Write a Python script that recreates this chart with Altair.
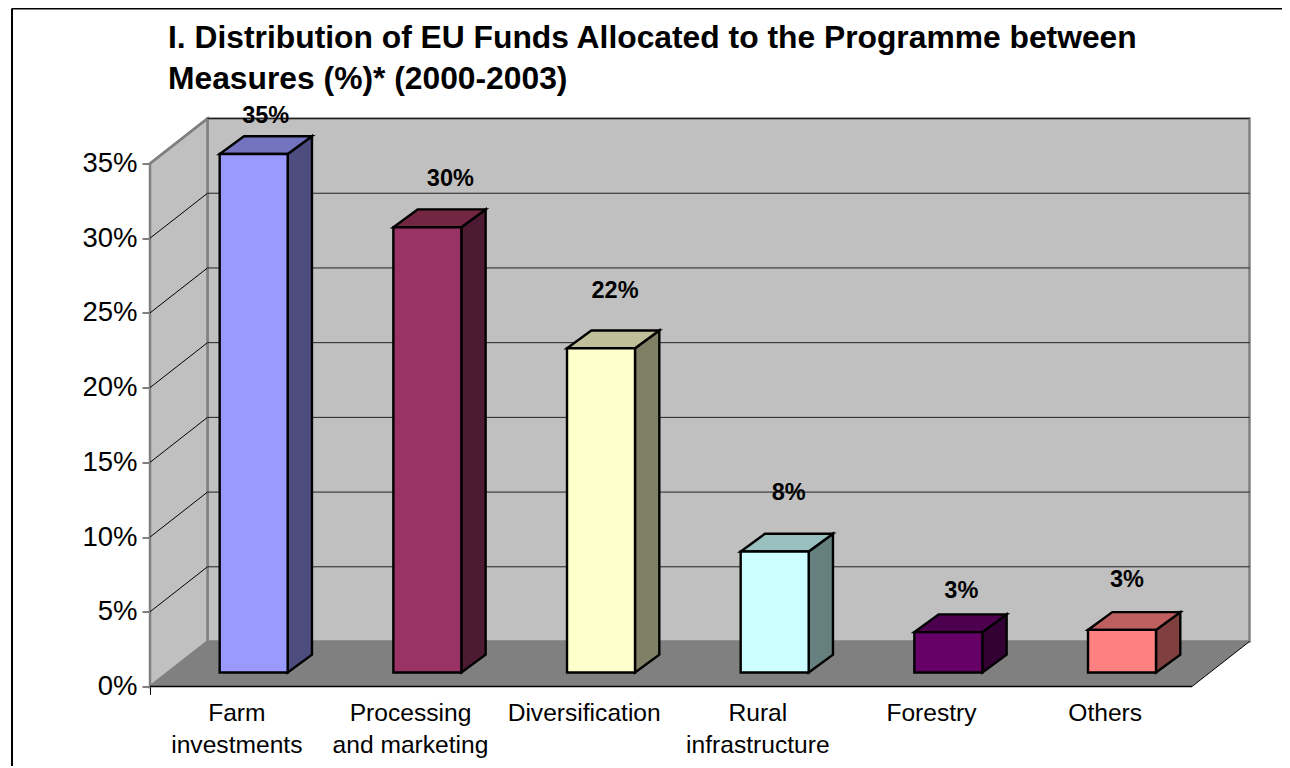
import altair as alt
import pandas as pd

categories = ["Farm\ninvestments", "Processing\nand marketing", "Diversification",
              "Rural\ninfrastructure", "Forestry", "Others"]
values = [34.7, 29.8, 21.7, 8.1, 2.7, 2.85]
y_ticks = [0, 5, 10, 15, 20, 25, 30, 35]
front_colors = ["#9999FF", "#993366", "#FFFFCC", "#CCFFFF", "#660066", "#FF8080"]
top_colors = ["#7373BF", "#732642", "#BFBF99", "#99BFBF", "#4D004D", "#BF6060"]
side_colors = ["#4D4D80", "#4D1A33", "#808066", "#668080", "#330033", "#804040"]
title_lines = ["I. Distribution of EU Funds Allocated to the Programme between",
               "Measures (%)* (2000-2003)"]

# placement of the value labels relative to each bar top (px right, px up)
label_shift_x = [12, 23, 14, 14, 13, 5]
label_lift = [38, 48, 57, 58, 41, 50]

# layout
UNIT_X = 173.7
UNIT_Y = 14.95
W, H = 1042, 523
WALL_DX, WALL_DY = 57.5 / UNIT_X, 45 / UNIT_Y
BAR_SHIFT, BAR_BASE = 16.85 / UNIT_X, 14 / UNIT_Y
BAR_W = 68 / UNIT_X
BAR_DX, BAR_DY = 24.3 / UNIT_X, 17.8 / UNIT_Y
TOP = max(y_ticks)
N = len(categories)
FONT = "Liberation Sans"

x_scale = alt.Scale(domain=[0, N], nice=False, zero=False)
y_scale = alt.Scale(domain=[0, TOP], nice=False, zero=False)
x_axis = alt.Axis(values=[0], labels=False, domain=False, grid=False, tickSize=8,
                  tickColor="#000000", tickWidth=1, title=None)
y_axis = alt.Axis(values=y_ticks, labelExpr="datum.value + '%'", domain=False, grid=False,
                  tickSize=8, tickColor="#000000", tickWidth=1, labelFont=FONT,
                  labelFontSize=27.5, labelColor="#000000", labelPadding=5, title=None)
X = alt.X("x:Q", scale=x_scale, axis=x_axis)
Y = alt.Y("y:Q", scale=y_scale, axis=y_axis)

# ---- tables derived from the values ----
front, faces, labels, cats = [], [], [], []
for i, v in enumerate(values):
    L = i + 0.5 + BAR_SHIFT - BAR_W / 2
    R = L + BAR_W
    B = BAR_BASE + v
    front.append(dict(x=L, x2=R, y=BAR_BASE, y2=B, fill=front_colors[i]))
    for px, lo, hi in [(R, BAR_BASE, B), (R + BAR_DX, BAR_BASE + BAR_DY, B + BAR_DY)]:
        faces.append(dict(face=f"s{i}", x=px, y=lo, y2=hi, fill=side_colors[i]))
    for px, lo, hi in [(L, B, B), (L + BAR_DX, B, B + BAR_DY), (R, B, B + BAR_DY),
                       (R + BAR_DX, B + BAR_DY, B + BAR_DY)]:
        faces.append(dict(face=f"t{i}", x=px, y=lo, y2=hi, fill=top_colors[i]))
    labels.append(dict(x=i + 0.5 + BAR_SHIFT + label_shift_x[i] / UNIT_X,
                       y=B + label_lift[i] / UNIT_Y, text=f"{round(v)}%"))
    cats.append(dict(x=i + 0.5, text=categories[i]))

wall_left = [dict(face="w", x=0, y=0, y2=TOP, fill="#C0C0C0"),
             dict(face="w", x=WALL_DX, y=WALL_DY, y2=TOP + WALL_DY, fill="#C0C0C0")]
floor = [dict(face="f", x=0, y=0, y2=0, fill="#808080"),
         dict(face="f", x=WALL_DX, y=0, y2=WALL_DY, fill="#808080"),
         dict(face="f", x=N, y=0, y2=WALL_DY, fill="#808080"),
         dict(face="f", x=N + WALL_DX, y=WALL_DY, y2=WALL_DY, fill="#808080")]
back = [dict(x=WALL_DX, x2=N + WALL_DX, y=WALL_DY, y2=TOP + WALL_DY)]

grid = []
for t in y_ticks[1:]:
    grid.append(dict(x=0, x2=WALL_DX, y=t, y2=t + WALL_DY, c="#808080" if t == TOP else "#000000",
                     w=2.5 if t == TOP else 1))
    grid.append(dict(x=WALL_DX, x2=N + WALL_DX, y=t + WALL_DY, y2=t + WALL_DY, c="#222222", w=1))
edges = [dict(x=0, x2=N, y=0, y2=0, c="#000000", w=1.5),
         dict(x=N, x2=N + WALL_DX, y=0, y2=WALL_DY, c="#000000", w=1)]


def area(rows, **mk):
    return alt.Chart(pd.DataFrame(rows)).mark_area(clip=False, opacity=1, **mk).encode(
        x=X, y=Y, y2="y2:Q", color=alt.Color("fill:N", scale=None), detail="face:N")


def segs(rows):
    return alt.Chart(pd.DataFrame(rows)).mark_rule(clip=False).encode(
        x=X, x2="x2:Q", y=Y, y2="y2:Q",
        color=alt.Color("c:N", scale=None), strokeWidth=alt.StrokeWidth("w:Q", scale=None))


GRAY = dict(stroke="#808080", strokeWidth=2.5)
BLK = dict(stroke="#000000", strokeWidth=2.4, strokeJoin="miter")

back_wall = alt.Chart(pd.DataFrame(back)).mark_rect(fill="#C0C0C0", **GRAY).encode(
    x=X, x2="x2:Q", y=Y, y2="y2:Q")
front_faces = alt.Chart(pd.DataFrame(front)).mark_rect(**BLK).encode(
    x=X, x2="x2:Q", y=Y, y2="y2:Q", fill=alt.Fill("fill:N", scale=None))

value_labels = alt.Chart(pd.DataFrame(labels)).mark_text(
    font=FONT, fontSize=23.5, fontWeight="bold", color="#000000", baseline="middle", align="center"
).encode(x=X, y=Y, text="text:N")
cat_labels = alt.Chart(pd.DataFrame(cats)).mark_text(
    font=FONT, fontSize=24.6, color="#000000", baseline="top", align="center",
    lineBreak="\n", lineHeight=32
).encode(x=X, y=alt.value(H + 15), text="text:N")

frame = (
    alt.Chart(pd.DataFrame({"k": [0]})).mark_rule(color="#000000", strokeWidth=2, clip=False).encode(
        x=alt.value(-138), y=alt.value(-155), y2=alt.value(H + 82))
    + alt.Chart(pd.DataFrame({"k": [0]})).mark_rule(color="#000000", strokeWidth=2, clip=False).encode(
        x=alt.value(-138), x2=alt.value(W + 100), y=alt.value(-155))
)

chart = alt.layer(
    back_wall, area(wall_left, **GRAY), area(floor), segs(grid), segs(edges),
    area(faces, **BLK), front_faces, value_labels, cat_labels, frame,
).properties(
    width=W, height=H,
    title=alt.TitleParams(text=title_lines, anchor="start", frame="group", dx=18, offset=0, dy=88.5,
                          font=FONT, fontSize=31.8, fontWeight="bold", color="#000000",
                          lineHeight=41),
    autosize=alt.AutoSizeParams(type="none"),
    padding={"left": 142, "top": 155.5, "right": 90, "bottom": 79},
).configure_view(stroke=None)

chart.save("out.html", embed_options={"renderer": "svg", "actions": False})
